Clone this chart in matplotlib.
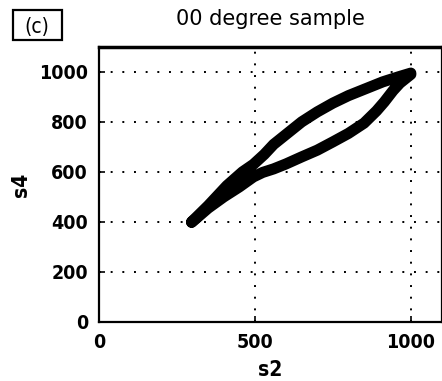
import matplotlib
matplotlib.use("Agg")
import matplotlib.pyplot as plt
from matplotlib.patches import Rectangle

# hysteresis loop (upper branch out, lower branch back)
up_x = [297, 350, 410, 460, 495, 530, 560, 600, 650, 700, 750, 800, 860, 910, 960, 1000]
up_y = [400, 465, 545, 600, 630, 670, 710, 750, 800, 840, 875, 905, 935, 960, 980, 995]
lo_x = [1000, 985, 965, 943, 915, 890, 850, 800, 750, 700, 650, 600, 560, 525, 495, 450, 400, 350, 297]
lo_y = [990, 975, 955, 925, 880, 844, 795, 754, 720, 687, 660, 632, 612, 598, 580, 540, 500, 455, 398]

xticks = [0, 500, 1000]
yticks = [0, 200, 400, 600, 800, 1000]

plt.rcParams['font.family'] = ['DejaVu Sans']
plt.rcParams['font.stretch'] = 'condensed'
fig = plt.figure(figsize=(4.42, 3.81), dpi=100)
ax = fig.add_axes([0.224, 0.155, 0.776, 0.722])

ax.plot(up_x + lo_x, up_y + lo_y, color='black', lw=8, solid_joinstyle='round',
        solid_capstyle='round')

ax.set_xlim(0, 1100)
ax.set_ylim(0, 1100)
ax.set_xticks(xticks)
ax.set_yticks(yticks)
ax.tick_params(direction='in', length=4, width=1.2, labelsize=14, pad=8)
for lab in ax.get_xticklabels() + ax.get_yticklabels():
    lab.set_fontweight('bold')
ax.grid(True, color='black', linestyle=(0, (1, 5)), lw=1.4)
for s in ax.spines.values():
    s.set_linewidth(1.6)
ax.spines['top'].set_linewidth(2.5)

ax.set_title('00 degree sample', fontsize=15, fontstretch='normal', pad=16)
ax.set_xlabel('s2', fontsize=15, fontweight='bold', labelpad=6)
ax.set_ylabel('s4', fontsize=15, fontweight='bold', labelpad=6)

# boxed panel tag
fig.patches.append(Rectangle((13 / 442, 1 - 40 / 381), 49 / 442, 30 / 381,
                             transform=fig.transFigure, fill=False, ec='black', lw=1.6))
fig.text(37 / 442, 1 - 27 / 381, '(c)', fontsize=15, ha='center', va='center')

fig.savefig('out.png', dpi=100)
